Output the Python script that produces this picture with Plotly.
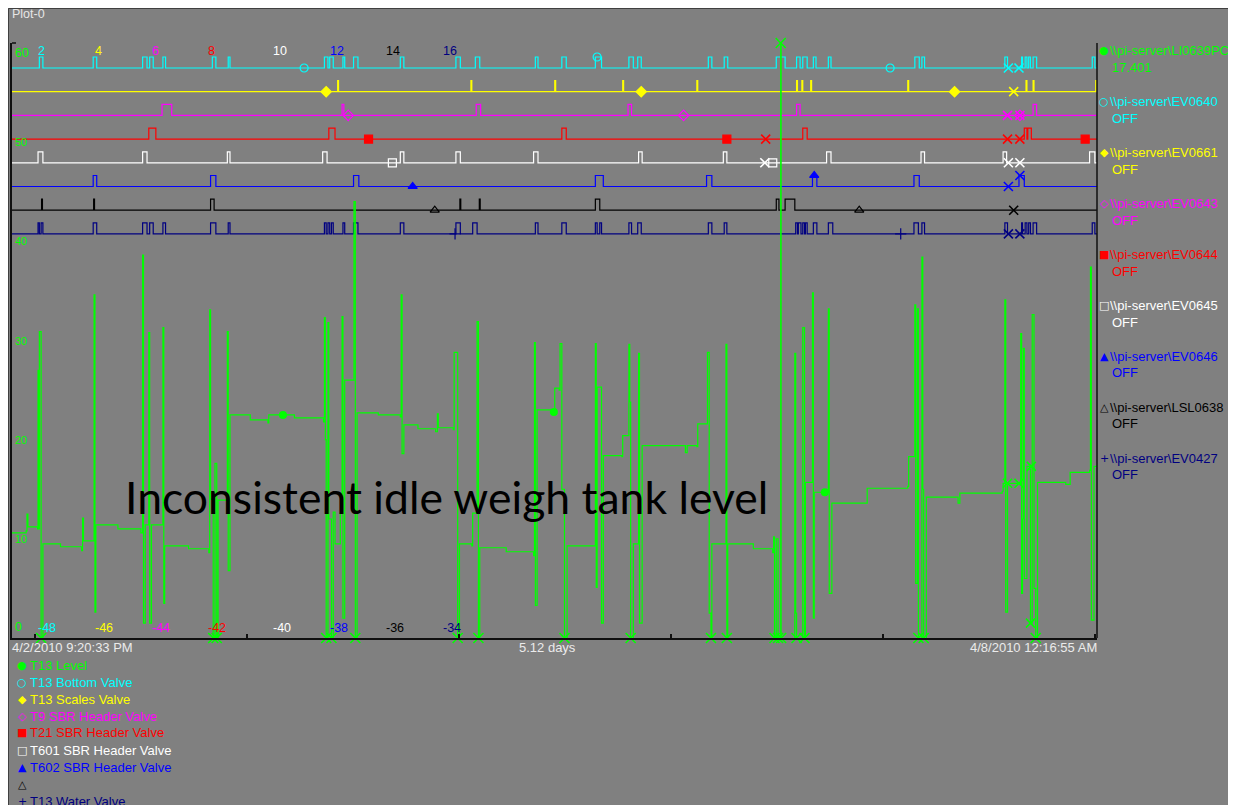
import plotly.graph_objects as go

# ---------------- data (time in hours since 4/2/2010 9:20:33 PM) ----------------
SPAN_HOURS = 122.94
START_LABEL = "4/2/2010 9:20:33 PM"
END_LABEL = "4/8/2010 12:16:55 AM"
SPAN_LABEL = "5.12 days"
MIDNIGHTS = [2.66, 26.66, 50.66, 74.66, 98.66, 122.66]

# T13 Level (LI0639PCT), % ; values < 0 or > 60 are off-scale
level_t = [0.0, 1.6, 1.7, 1.8, 2.9, 2.95, 3.0, 3.1, 3.3, 3.5, 5.5, 7.9, 8.0, 8.1, 9.2, 9.3, 9.4, 9.5,
           12.0, 14.6, 14.8, 14.9, 15.1, 15.5, 15.6, 15.8, 17.0, 17.1, 17.2, 17.3, 20.0, 22.3, 22.4,
           22.5, 22.8, 23.0, 23.2, 23.35, 24.3, 24.4, 24.5, 24.7, 27.0, 29.0, 29.1, 32.0, 35.3, 35.4,
           35.5, 35.6, 35.8, 35.9, 36.2, 36.4, 36.6, 37.1, 37.2, 37.4, 37.5, 37.7, 38.6, 38.75, 38.9,
           39.1, 41.5, 44.0, 44.1, 44.2, 44.4, 46.0, 48.0, 48.2, 48.3, 50.0, 50.1, 50.5, 50.7, 52.1,
           52.2, 52.6, 52.7, 52.85, 53.0, 56.0, 59.1, 59.2, 59.3, 59.5, 61.3, 61.5, 62.0, 62.1, 62.3,
           62.6, 62.9, 66.0, 66.1, 66.2, 66.3, 66.7, 66.8, 67.0, 69.1, 69.2, 69.8, 69.9, 70.0, 70.1,
           70.4, 70.9, 71.0, 71.1, 71.4, 76.3, 76.5, 77.6, 77.7, 78.7, 78.8, 79.0, 79.2, 79.3, 80.8,
           80.9, 81.0, 81.1, 84.0, 86.2, 86.3, 86.4, 86.6, 86.8, 87.1, 87.15, 88.7, 88.8, 88.9, 89.6,
           89.8, 89.9, 90.6, 90.7, 90.8, 90.9, 92.4, 92.5, 92.6, 92.9, 96.6, 96.9, 101.5, 101.6, 102.2,
           102.3, 102.4, 102.6, 102.7, 103.1, 103.2, 103.3, 103.6, 107.2, 107.4, 112.2, 112.3, 112.5,
           112.6, 112.8, 114.1, 114.3, 114.4, 114.5, 114.6, 114.7, 115.0, 115.3, 115.4, 115.6, 115.8,
           116.0, 116.2, 119.4, 119.9, 122.1, 122.2, 122.3, 122.6, 122.94]
level_v = [10.6, 10.8, 12.5, 11.2, 11.0, 27.0, 11.0, 30.9, -5, 9.5, 9.2, 8.8, 12.1, 9.8, 9.8, 34.6, 2.6, 11.4,
           11.0, 10.6, 38.6, 1.5, 11.4, 30.8, 1.5, 11.4, 11.4, 31.3, 3.5, 9.3, 9.0, 8.6, 33.1,
           14.0, -5, 17.6, -5, 13.9, 13.9, 30.9, 6.8, 22.5, 22.0, 21.7, 22.5, 22.2, 21.8, 32.3,
           20.0, -5, 31.8, 12.0, -5, 12.7, 9.5, 9.5, 12.6, 32.4, 2.0, 26.0, 26.0, 44.0, -5,
           22.7, 22.5, 22.3, 34.6, 18.6, 21.5, 21.1, 20.8, 22.6, 21.2, 21.0, 28.8, -5, 9.5, 9.3,
           12.6, 12.6, 31.9, -5, 9.1, 8.7, 8.3, 29.8, 3.3, 23.0, 22.8, 25.2, 25.0, 29.7, 15.0,
           -5, 9.3, 9.3, 29.7, 5.1, 25.3, 25.3, 1.5, 18.4, 18.3, 20.4, 20.4, 29.6, 23.8, -5,
           9.5, 9.5, 28.7, 1.5, 19.4, 18.7, 19.4, 19.3, 21.6, 21.6, 28.8, 2.5, -5, 9.5, 9.5,
           29.6, -5, 9.5, 9.0, 8.6, 10.2, -5, 10.0, -5, 70.0, -5, 28.7, 2.5, -5, 31.3,
           -5, 15.7, 15.7, 34.8, 2.0, 14.7, 14.7, 33.2, 4.5, 13.6, 13.6, 15.1, 15.3, 18.3, 18.3,
           33.6, 5.5, 33.2, -5, 38.4, 15.0, -5, 14.2, 13.6, 14.6, 14.8, 15.6, 34.1,
           2.6, 15.6, 15.6, 30.7, 4.5, 12.0, 29.2, 6.0, 17.3, 17.0, 1.5, 32.6, 5.0,
           -5, 15.7, 15.5, 16.7, 16.9, 37.4, 1.8, 17.3, 17.401]
level_marker_t = [30.7, 61.4, 92.1]
level_flag_t = [112.8, 114.1, 115.5, 115.4]
level_flag_v = [15.6, 15.6, 17.3, 1.5]

# digital valves: (open, close) intervals in hours
ev0640_pulses = [(3.1, 3.5), (9.2, 9.6), (14.8, 15.3), (15.6, 16.0), (17.1, 17.4), (22.7, 23.1), (24.5, 24.7),
                 (35.4, 35.8), (36.0, 36.4), (37.5, 37.7), (38.7, 39.2), (44.0, 44.4), (50.3, 50.8),
                 (52.5, 53.0), (59.3, 59.6), (62.3, 62.8), (66.1, 66.8), (69.9, 70.4), (70.9, 71.3),
                 (78.9, 79.3), (80.7, 81.1), (86.6, 87.6), (88.9, 89.3), (89.6, 90.1), (90.8, 91.1),
                 (92.5, 92.8), (102.3, 102.8), (103.1, 103.4), (112.5, 112.8), (114.4, 114.5),
                 (114.8, 115.0), (115.2, 115.4), (115.7, 116.1), (122.4, 122.7)]
ev0661_pulses = [(36.9, 37.0), (52.0, 52.1), (61.5, 61.6), (69.2, 69.3), (77.6, 77.7), (88.9, 89.0),
                 (89.5, 89.6), (90.5, 90.6), (101.5, 101.6), (114.9, 115.0), (115.7, 115.8), (122.8, 122.9)]
ev0643_pulses = [(17.0, 18.1), (37.4, 37.6), (52.6, 53.1), (69.8, 70.2), (88.9, 89.3), (115.7, 116.1)]
ev0644_pulses = [(15.5, 16.3), (35.9, 36.6), (62.3, 62.8), (89.6, 90.1), (114.7, 115.0), (115.1, 115.5)]
ev0645_pulses = [(2.95, 3.5), (14.8, 15.3), (24.4, 24.7), (35.2, 35.7), (44.0, 44.4), (50.3, 50.8),
                 (59.1, 59.6), (71.0, 71.4), (80.6, 81.0), (92.3, 92.8), (103.0, 103.4), (112.3, 112.7),
                 (122.1, 122.7)]
ev0646_pulses = [(9.2, 9.6), (22.5, 23.1), (38.7, 39.3), (66.1, 67.0), (78.7, 79.3), (90.7, 91.2),
                 (102.2, 102.8), (114.1, 114.7)]
lsl0638_pulses = [(3.35, 3.45), (9.25, 9.35), (22.5, 22.9), (50.75, 50.85), (52.95, 53.05), (66.1, 66.6),
                  (86.6, 86.9), (87.6, 88.7)]
ev0427_pulses = [(2.95, 3.1), (3.3, 3.5), (9.2, 9.6), (14.8, 15.3), (15.6, 16.0), (17.1, 17.4), (22.5, 23.1),
                 (24.5, 24.7), (35.4, 35.6), (35.8, 36.0), (36.2, 36.4), (37.5, 37.7), (38.7, 39.2),
                 (44.0, 44.4), (50.3, 50.8), (52.2, 52.7), (59.3, 59.6), (62.3, 62.8), (66.1, 66.3),
                 (66.6, 66.8), (69.9, 70.2), (70.9, 71.3), (78.9, 79.3), (80.7, 81.0), (88.8, 89.0),
                 (89.1, 89.4), (89.6, 89.8), (89.9, 90.1), (90.8, 91.2), (92.5, 93.0), (102.2, 102.7),
                 (103.1, 103.4), (112.5, 112.8), (114.4, 114.5), (114.8, 115.0), (115.2, 115.4),
                 (115.7, 116.1), (122.4, 122.7)]

ev0640_markers = [33.1, 66.3, 99.5]
ev0661_markers = [35.6, 71.3, 106.8]
ev0643_markers = [38.1, 76.1, 114.2]
ev0644_markers = [40.4, 81.0, 121.6]
ev0645_markers = [43.1, 86.2]
ev0646_markers = [45.4, 90.9]
lsl0638_markers = [47.9, 96.0]
ev0427_markers = [50.2, 100.7]

ev0640_flags = [112.9, 114.1]
ev0661_flags = [113.5]
ev0643_flags = [112.8, 114.2]
ev0644_flags = [85.4, 112.8, 114.2]
ev0645_flags = [85.3, 112.9, 114.2]
ev0646_flags = [112.9, 114.2]
lsl0638_flags = [113.5]
ev0427_flags = [112.9, 114.2]

trace_names = ["T13 Level", "T13 Bottom Valve", "T13 Scales Valve", "T9 SBR Header Valve",
               "T21 SBR Header Valve", "T601 SBR Header Valve", "T602 SBR Header Valve", "",
               "T13 Water Valve"]
trace_tags = [r"\\pi-server\LI0639PCT", r"\\pi-server\EV0640", r"\\pi-server\EV0661",
              r"\\pi-server\EV0643", r"\\pi-server\EV0644", r"\\pi-server\EV0645",
              r"\\pi-server\EV0646", r"\\pi-server\LSL0638", r"\\pi-server\EV0427"]
valve_states = ["OFF"] * 8
top_scale_labels = ["2", "4", "6", "8", "10", "12", "14", "16"]
bottom_scale_labels = ["-48", "-46", "-44", "-42", "-40", "-38", "-36", "-34"]
level_ticks = [10, 20, 30, 40, 50]
annotation_text = "Inconsistent idle weigh tank level"

# ---------------- styles / layout ----------------
# page is offset by the browser's 8px body margin: figure pixel = page pixel - 8
OFF = 8
W, H = 1236, 805
PLOT_L, PLOT_R, PLOT_T, PLOT_B = 12, 1097, 43, 638   # page pixels
PW, PH = PLOT_R - PLOT_L, PLOT_B - PLOT_T
GREEN = "#00ff00"
colors = ["#00ff00", "#00ffff", "#ffff00", "#ff00ff", "#ff0000", "#ffffff", "#0000ff", "#000000", "#000080"]
symbols = ["circle", "circle-open", "diamond", "diamond-open", "square", "square-open",
           "triangle-up", "triangle-up-open", "cross-thin-open"]
glyphs = ["●", "○", "◆", "◇", "■", "□", "▲", "△", "+"]
LANE_TOP, LANE_STEP, PULSE_H = 57.48, 2.39, 1.11
FONT = "Liberation Sans, Arial, sans-serif"


def px(xp):
    return (xp - PLOT_L) / PW


def py(yp):
    return (PLOT_B - yp) / PH


def step_value(ts, vs, t):
    val = vs[0]
    for ti, vi in zip(ts, vs):
        if ti <= t:
            val = vi
        else:
            break
    return val


def is_open(pulses, t):
    return any(s <= t <= e for s, e in pulses)


fig = go.Figure()

valves = [
    (ev0640_pulses, ev0640_markers, ev0640_flags),
    (ev0661_pulses, ev0661_markers, ev0661_flags),
    (ev0643_pulses, ev0643_markers, ev0643_flags),
    (ev0644_pulses, ev0644_markers, ev0644_flags),
    (ev0645_pulses, ev0645_markers, ev0645_flags),
    (ev0646_pulses, ev0646_markers, ev0646_flags),
    (lsl0638_pulses, lsl0638_markers, lsl0638_flags),
    (ev0427_pulses, ev0427_markers, ev0427_flags),
]

for i, (pulses, mk_t, flag_t) in enumerate(valves):
    base = LANE_TOP - LANE_STEP * i
    col = colors[i + 1]
    xs, ys = [0.0], [base]
    for s, e in pulses:
        xs += [s, s, e, e]
        ys += [base, base + PULSE_H, base + PULSE_H, base]
    xs.append(SPAN_HOURS)
    ys.append(base)
    fig.add_trace(go.Scatter(x=xs, y=ys, mode="lines", line=dict(color=col, width=1.2), hoverinfo="skip"))
    fig.add_trace(go.Scatter(
        x=mk_t, y=[base + (PULSE_H if is_open(pulses, t) else 0) for t in mk_t], mode="markers",
        marker=dict(symbol=symbols[i + 1], size=8, color=col, line=dict(color=col, width=1.2)),
        cliponaxis=False, hoverinfo="skip"))
    fig.add_trace(go.Scatter(
        x=flag_t, y=[base + (PULSE_H if is_open(pulses, t) else 0) for t in flag_t], mode="markers",
        marker=dict(symbol="x-thin-open", size=9, color=col, line=dict(color=col, width=1.6)),
        cliponaxis=False, hoverinfo="skip"))

# level trace
fig.add_trace(go.Scatter(x=level_t, y=level_v, mode="lines",
                         line=dict(color=GREEN, width=1.2, shape="hv"), hoverinfo="skip"))
off_t = [t for t, v in zip(level_t, level_v) if v < 0 or v > 60]
off_v = [0 if v < 0 else 60 for v in level_v if v < 0 or v > 60]
fig.add_trace(go.Scatter(x=off_t, y=off_v, mode="markers", cliponaxis=False,
                         marker=dict(symbol="x-thin-open", size=10, color=GREEN, line=dict(color=GREEN, width=1.6)),
                         hoverinfo="skip"))
fig.add_trace(go.Scatter(x=level_flag_t, y=level_flag_v, mode="markers", cliponaxis=False,
                         marker=dict(symbol="x-thin-open", size=9, color=GREEN, line=dict(color=GREEN, width=1.6)),
                         hoverinfo="skip"))
fig.add_trace(go.Scatter(x=level_marker_t, y=[step_value(level_t, level_v, t) for t in level_marker_t],
                         mode="markers", marker=dict(symbol="circle", size=8, color=GREEN), hoverinfo="skip"))

ann = []


def txt(text, xp, yp, color, size=12, xanchor="left", family=FONT):
    ann.append(dict(text=text, x=px(xp), y=py(yp), xref="paper", yref="paper", xanchor=xanchor,
                    yanchor="middle", showarrow=False, font=dict(color=color, size=size, family=family)))


txt("Plot-0", 10, 14, "#e6e6e6", 12.5)

# level scale labels (inside)
for v in level_ticks:
    ann.append(dict(text=str(v), x=0, y=v, xref="paper", yref="y", xanchor="left", yanchor="middle",
                    xshift=1, showarrow=False, font=dict(color=GREEN, size=11, family=FONT)))
ann.append(dict(text="60", x=0, y=60, xref="paper", yref="y", xanchor="left", yanchor="top", xshift=1,
                yshift=-1, showarrow=False, font=dict(color=GREEN, size=12.5, family=FONT)))
ann.append(dict(text="0", x=0, y=0, xref="paper", yref="y", xanchor="left", yanchor="bottom", xshift=1,
                yshift=2, showarrow=False, font=dict(color=GREEN, size=12.5, family=FONT)))

scale_x = [38, 95, 152, 208, 273, 330, 386, 443]
for i in range(8):
    txt(top_scale_labels[i], scale_x[i] - 2, 51, colors[i + 1], 12.5)
    txt(bottom_scale_labels[i], scale_x[i] - 2, 628, colors[i + 1], 12.5)

# time axis labels
txt(START_LABEL, 10, 647, "#ebebeb", 13)
txt(SPAN_LABEL, 547, 647, "#ebebeb", 13, xanchor="center")
txt(END_LABEL, 1099, 647, "#ebebeb", 13, xanchor="right")

# bottom legend
for i, name in enumerate(trace_names):
    yy = 665 + 17 * i
    txt(glyphs[i], 22, yy, colors[i], 11, xanchor="center", family="DejaVu Sans")
    if name:
        txt(name, 28, yy, colors[i], 13)

# right legend
level_now = "%.3f" % level_v[-1]
states = [level_now] + valve_states
for i, tag in enumerate(trace_tags):
    yy = 51 + 50.9 * i
    txt(glyphs[i], 1104, yy, colors[i], 11, xanchor="center", family="DejaVu Sans")
    txt(tag, 1108, yy, colors[i], 13)
    txt(states[i], 1110, yy + 16.5, colors[i], 13)

# callout text
txt(annotation_text, 446, 496, "#000000", 44.5, xanchor="center", family="Lato")

shapes = [
    dict(type="line", xref="paper", yref="paper", x0=px(8.5), x1=px(8.5), y0=py(H + 20), y1=py(8.5),
         line=dict(color="#404040", width=1)),
    dict(type="line", xref="paper", yref="paper", x0=px(8.5), x1=px(W + 20), y0=py(8.5), y1=py(8.5),
         line=dict(color="#404040", width=1)),
    dict(type="line", xref="paper", yref="paper", x0=1, x1=1, y0=0, y1=1, line=dict(color="#101010", width=1.5)),
    dict(type="line", xref="paper", yref="paper", x0=0, x1=px(16), y0=1, y1=1, line=dict(color="#101010", width=1.5)),
]

fig.update_layout(
    width=W, height=H,
    margin=dict(l=PLOT_L - OFF, r=W - (PLOT_R - OFF), t=PLOT_T - OFF, b=H - (PLOT_B - OFF), pad=0),
    paper_bgcolor="#808080", plot_bgcolor="#808080", showlegend=False,
    font=dict(family=FONT, size=12),
    xaxis=dict(range=[0, SPAN_HOURS], showgrid=False, zeroline=False, showline=True, linecolor="#101010",
               linewidth=1.5, ticks="inside", ticklen=4, tickcolor="#101010", tickwidth=1.5,
               tickvals=MIDNIGHTS, showticklabels=False, fixedrange=True),
    yaxis=dict(range=[0, 60], showgrid=False, zeroline=False, showline=True, linecolor="#101010",
               linewidth=1.5, showticklabels=False, ticks="", fixedrange=True),
    annotations=ann, shapes=shapes,
)

fig.write_html("out.html", default_width="1236px", default_height="805px")
